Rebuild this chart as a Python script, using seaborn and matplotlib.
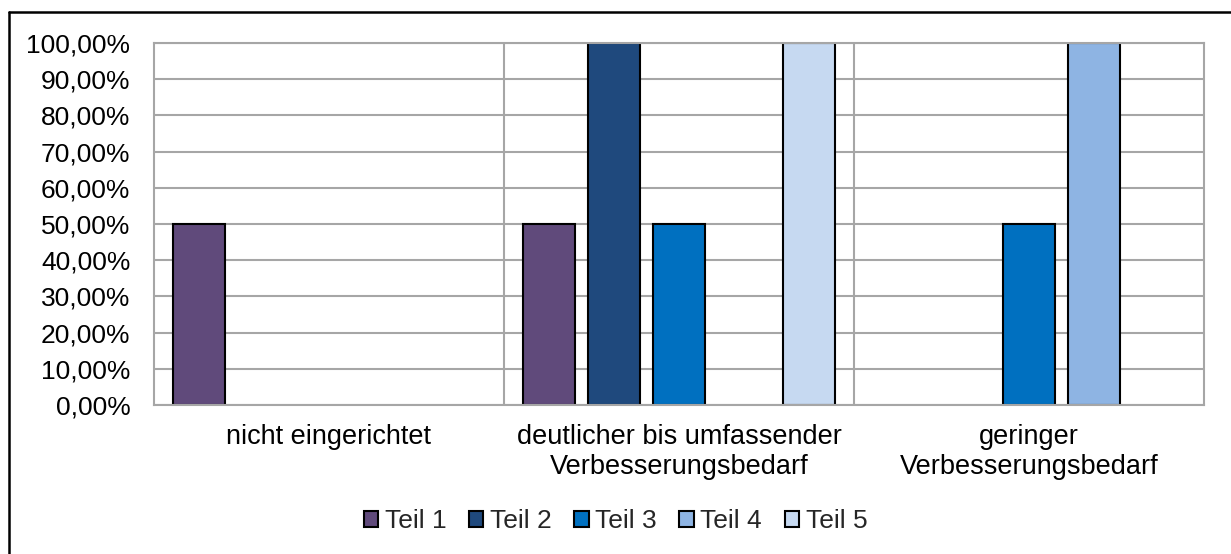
import pandas as pd
import matplotlib.pyplot as plt
import seaborn as sns
from matplotlib.patches import Patch
from matplotlib.lines import Line2D
from matplotlib.ticker import FuncFormatter, MultipleLocator

kategorien = [
    "nicht eingerichtet",
    "deutlicher bis umfassender\nVerbesserungsbedarf",
    "geringer\nVerbesserungsbedarf",
]
teile = ["Teil 1", "Teil 2", "Teil 3", "Teil 4", "Teil 5"]
teil1 = [0.50, 0.50, 0.0]
teil2 = [0.0, 1.00, 0.0]
teil3 = [0.0, 0.50, 0.50]
teil4 = [0.0, 0.0, 1.00]
teil5 = [0.0, 1.00, 0.0]
farben = ["#604A7B", "#1F497D", "#0070C0", "#8EB4E3", "#C6D9F1"]

werte = [teil1, teil2, teil3, teil4, teil5]
df = pd.DataFrame(
    [(k, t, v) for t, reihe in zip(teile, werte) for k, v in zip(kategorien, reihe)],
    columns=["Kategorie", "Teil", "Anteil"],
)

sns.set_style("white")
plt.rcParams["font.family"] = ["Liberation Sans", "DejaVu Sans"]

fig = plt.figure(figsize=(12.31, 5.54), dpi=100)
ax = fig.add_axes([0.1251, 0.269, 0.8529, 0.6534])

sns.barplot(
    data=df, x="Kategorie", y="Anteil", hue="Teil", order=kategorien,
    hue_order=teile, palette=farben, saturation=1, width=0.9286, gap=0.2,
    edgecolor="black", linewidth=1.5, ax=ax, legend=False,
)

# leere Werte nicht zeichnen
for p in ax.patches:
    if p.get_height() == 0:
        p.set_visible(False)

grau = "#A6A6A6"
ax.set_ylim(0, 1)
ax.set_xlim(-0.5, 2.5)
ax.yaxis.set_major_locator(MultipleLocator(0.1))
ax.yaxis.set_major_formatter(FuncFormatter(lambda v, _: f"{v * 100:.2f}%".replace(".", ",")))
ax.grid(axis="y", color=grau, linewidth=1.5, zorder=0)
ax.set_axisbelow(True)
for x in [0.5, 1.5]:
    ax.axvline(x, color=grau, linewidth=1.5, zorder=0)
for spine in ax.spines.values():
    spine.set_visible(True)
    spine.set_color(grau)
    spine.set_linewidth(1.5)

ax.tick_params(axis="y", length=0, pad=17, labelsize=19, colors="black")
ax.tick_params(axis="x", length=0, pad=14, labelsize=19.5, colors="black")
ax.set_xlabel("")
ax.set_ylabel("")

handles = [Patch(facecolor=c, edgecolor="black", linewidth=1.5) for c in farben]
fig.legend(
    handles, teile, loc="center", bbox_to_anchor=(0.5, 1 - 521 / 554), ncol=5,
    frameon=False, fontsize=19, handlelength=0.55, handleheight=0.55,
    handletextpad=0.25, columnspacing=0.85,
)

# Rahmen um das Diagramm
fig.add_artist(Line2D([8.5 / 1231, 8.5 / 1231], [0, 1 - 12 / 554], color="black", linewidth=1.8))
fig.add_artist(Line2D([8.5 / 1231, 1], [1 - 12 / 554, 1 - 12 / 554], color="black", linewidth=1.8))

fig.savefig("out.png", dpi=100)
